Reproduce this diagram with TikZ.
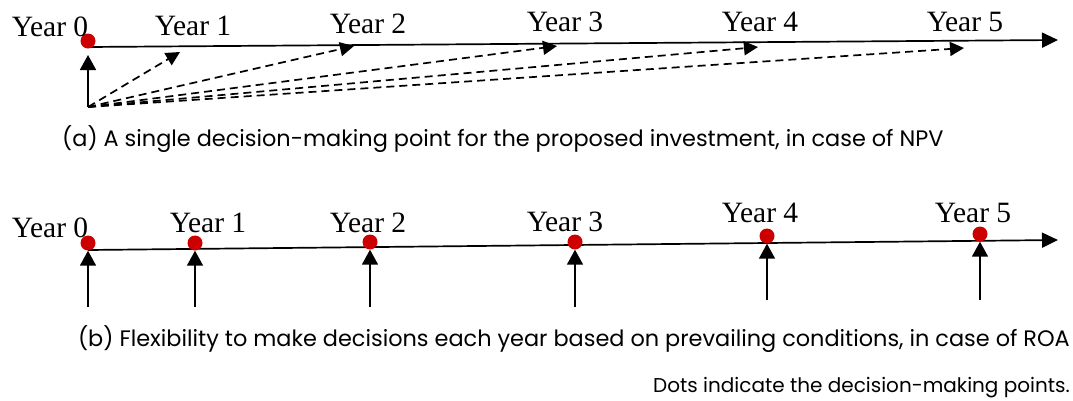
\documentclass[tikz,border=0pt]{standalone}
\usepackage{fontspec}
\setmainfont{Liberation Serif}
\newfontfamily\capfont{Poppins}
\usetikzlibrary{arrows.meta}
\definecolor{dotred}{RGB}{204,0,0}
\begin{document}
\begin{tikzpicture}[x=1pt,y=-1pt,
  yr/.style={font=\fontsize{29.5}{31}\selectfont, inner sep=0pt, anchor=base},
  dotn/.style={circle, fill=dotred, minimum size=15pt, inner sep=0pt},
  tl/.style={line width=1.7pt, -{Triangle[length=16pt,width=15pt]}},
  up/.style={line width=1.7pt, -{Triangle[length=15pt,width=16pt]}},
  dsh/.style={line width=1.7pt, dash pattern=on 8pt off 5pt, -{Triangle[length=14pt,width=14pt]}},
  captxt/.style={font=\capfont\fontsize{22.4}{24}\selectfont, inner sep=0pt},
  notetxt/.style={font=\capfont\fontsize{20}{22}\selectfont, inner sep=0pt}]
\useasboundingbox (0,0) rectangle (1073,400);
% ---------- (a) ----------
\coordinate (as) at (88,47);
\coordinate (ae) at (1058,40);
\draw[tl] (as) -- (ae);
\node[dotn] (a0) at (88,41) {};
\coordinate (ao) at (88,107);
\draw[up] (ao) -- (88,55);
\coordinate (a1) at (180,52);
\coordinate (a2) at (354,46);
\coordinate (a3) at (557,46);
\coordinate (a4) at (758,47);
\coordinate (a5) at (964,48);
\foreach \i in {1,...,5} \draw[dsh] (ao) -- (a\i);
\node[yr] (ya0) at (50,36) {Year 0};
\node[yr] (ya1) at (193,35) {Year 1};
\node[yr] (ya2) at (368,33) {Year 2};
\node[yr] (ya3) at (565,31) {Year 3};
\node[yr] (ya4) at (760,31) {Year 4};
\node[yr] (ya5) at (965,31) {Year 5};
\node[captxt, anchor=base west] (capa) at (62,146) {(a) A single decision-making point for the proposed investment, in case of NPV};
% ---------- (b) ----------
\coordinate (bs) at (88,250);
\coordinate (be) at (1058,240);
\draw[tl] (bs) -- (be);
\node[dotn] (b0) at (88,243) {};
\node[dotn] (b1) at (195,243) {};
\node[dotn] (b2) at (370,242) {};
\node[dotn] (b3) at (575,242) {};
\node[dotn] (b4) at (767,236) {};
\node[dotn] (b5) at (980,234) {};
\coordinate (c0) at (88,307);
\coordinate (c1) at (195,307);
\coordinate (c2) at (370,307);
\coordinate (c3) at (575,307);
\coordinate (c4) at (767,300);
\coordinate (c5) at (980,300);
\foreach \i in {0,...,5} \draw[up] (c\i) -- (b\i.south);
\node[yr] (yb0) at (50,237) {Year 0};
\node[yr] (yb1) at (208,232) {Year 1};
\node[yr] (yb2) at (368,232) {Year 2};
\node[yr] (yb3) at (565,231) {Year 3};
\node[yr] (yb4) at (760,222) {Year 4};
\node[yr] (yb5) at (973,222) {Year 5};
\node[captxt, anchor=base east] (capb) at (1070,346) {(b) Flexibility to make decisions each year based on prevailing conditions, in case of ROA};
\node[notetxt, anchor=base east] (capc) at (1070,392) {Dots indicate the decision-making points.};
\end{tikzpicture}
\end{document}
